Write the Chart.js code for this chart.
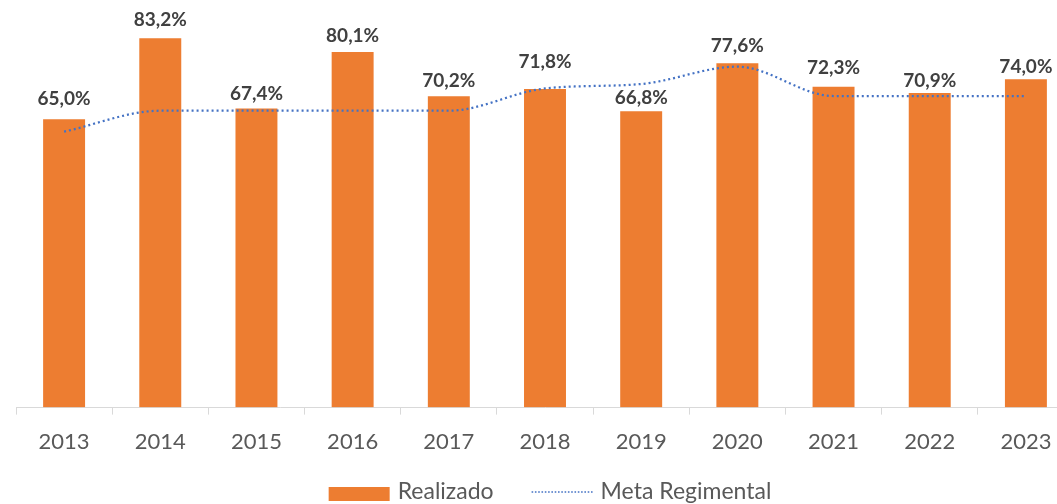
<!DOCTYPE html>
<html>
<head>
<meta charset="utf-8">
<script src="https://cdn.jsdelivr.net/npm/chart.js@4.4.1/dist/chart.umd.min.js"></script>
<style>
  html, body { margin: 0; padding: 0; background: #fff; overflow: hidden; }
  #wrap { width: 1100px; height: 504px; position: relative; }
</style>
</head>
<body>
<div id="wrap"><canvas id="chart"></canvas></div>
<script>
// ---------- Data ----------
const years = ['2013', '2014', '2015', '2016', '2017', '2018', '2019', '2020', '2021', '2022', '2023'];
const realizado = [65.0, 83.2, 67.4, 80.1, 70.2, 71.8, 66.8, 77.6, 72.3, 70.9, 74.0];
const metaRegimental = [62.0, 66.7, 66.7, 66.7, 66.7, 71.7, 72.7, 76.6, 70.0, 70.0, 70.0];
// gap (px) between each bar top and its label baseline
const labelGap = [13, 11, 8, 9, 8, 20, 6, 10, 12, 5, 5];

const ORANGE = '#ED7D31';
const BLUE = '#4472C4';
const FONT = 'Lato, "Open Sans", sans-serif';

function fmtPct(v) {
  return v.toFixed(1).replace('.', ',') + '%';
}

// ---------- Bar value labels ----------
const barLabels = {
  id: 'barLabels',
  afterDatasetsDraw(chart) {
    const meta = chart.getDatasetMeta(0);
    const ctx = chart.ctx;
    ctx.save();
    ctx.font = 'bold 19px ' + FONT;
    ctx.fillStyle = '#404040';
    ctx.textAlign = 'center';
    ctx.textBaseline = 'alphabetic';
    meta.data.forEach((bar, i) => {
      ctx.fillText(fmtPct(realizado[i]), bar.x, bar.y - labelGap[i]);
    });
    ctx.restore();
  }
};

// ---------- Legend (drawn by hand so the dotted sample stays dotted) ----------
const bottomLegend = {
  id: 'bottomLegend',
  afterDraw(chart) {
    const ctx = chart.ctx;
    const swatch = 61, gapText = 8, gapItem = 38;
    const y = chart.height - 12;
    ctx.save();
    ctx.font = '23px ' + FONT;
    const items = chart.data.datasets.map(ds => ({ ds, w: ctx.measureText(ds.label).width }));
    const total = items.reduce((s, it) => s + swatch + gapText + it.w, 0) + gapItem * (items.length - 1);
    let x = chart.width / 2 - total / 2;
    items.forEach(({ ds, w }) => {
      if (ds.type === 'line') {
        ctx.strokeStyle = ds.borderColor;
        ctx.lineWidth = 1.6;
        ctx.setLineDash([1.6, 1.7]);
        ctx.beginPath();
        ctx.moveTo(x, y);
        ctx.lineTo(x + swatch, y);
        ctx.stroke();
        ctx.setLineDash([]);
      } else {
        ctx.fillStyle = ds.backgroundColor;
        ctx.fillRect(x, y - 5, swatch, 14);
      }
      x += swatch + gapText;
      ctx.fillStyle = '#595959';
      ctx.textBaseline = 'middle';
      ctx.fillText(ds.label, x, y);
      x += w + gapItem;
    });
    ctx.restore();
  }
};

new Chart(document.getElementById('chart'), {
  type: 'bar',
  data: {
    labels: years,
    datasets: [
      {
        label: 'Realizado',
        data: realizado,
        backgroundColor: ORANGE,
        borderColor: 'rgba(255,255,255,0.35)',
        borderWidth: 1,
        borderSkipped: 'bottom',
        categoryPercentage: 1,
        barPercentage: 0.457,
        order: 1
      },
      {
        type: 'line',
        label: 'Meta Regimental',
        data: metaRegimental,
        borderColor: BLUE,
        backgroundColor: BLUE,
        borderWidth: 2.25,
        borderDash: [2, 3],
        pointRadius: 0,
        cubicInterpolationMode: 'monotone',
        fill: false,
        order: 0
      }
    ]
  },
  options: {
    responsive: true,
    maintainAspectRatio: false,
    animation: false,
    layout: { padding: { top: 7, left: 0, right: 0, bottom: 35 } },
    plugins: {
      tooltip: { enabled: false },
      legend: { display: false }
    },
    scales: {
      x: {
        offset: true,
        grid: {
          display: true,
          drawOnChartArea: false,
          drawTicks: true,
          tickLength: 7,
          color: '#D9D9D9'
        },
        border: { display: true, color: '#D9D9D9', width: 1 },
        ticks: {
          color: '#595959',
          font: { family: FONT, size: 22 },
          padding: 14
        }
      },
      y: {
        position: 'left',
        min: 0,
        max: 90,
        grid: { display: false },
        border: { display: false },
        ticks: { display: false },
        afterFit(s) { s.width = 16; }
      },
      yRight: {
        position: 'right',
        min: 0,
        max: 90,
        grid: { display: false },
        border: { display: false },
        ticks: { display: false },
        afterFit(s) { s.width = 26; }
      }
    }
  },
  plugins: [barLabels, bottomLegend]
});
</script>
</body>
</html>
